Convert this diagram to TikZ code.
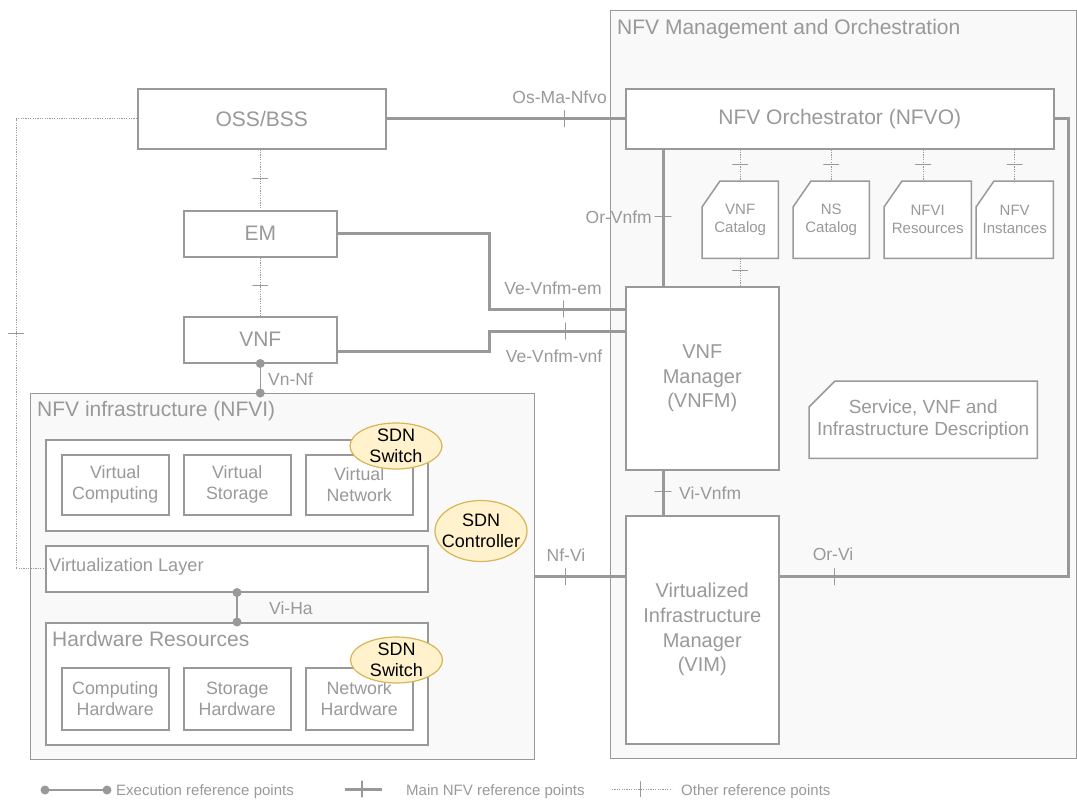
\documentclass[tikz,border=0pt]{standalone}
\usepackage{fontspec}
\setmainfont{Liberation Sans}
\usetikzlibrary{shapes.geometric,calc}
\definecolor{ln}{HTML}{999999}
\definecolor{tx}{HTML}{999999}
\definecolor{pane}{HTML}{F9F9F9}
\definecolor{sdnfill}{HTML}{FFF2CC}
\definecolor{sdnline}{HTML}{D6B656}
\newcommand{\fsz}[2]{\fontsize{#1}{#2}\selectfont}
\pgfdeclarelayer{panes}
\pgfdeclarelayer{cards}
\pgfsetlayers{panes,cards,main}
% outline of a card-shaped block: node name, chamfer width, chamfer height
\newcommand{\cardoutline}[3]{%
  \begin{pgfonlayer}{cards}
    \draw[draw=ln, line width=1.5pt, fill=white, line join=miter]
      ($(#1.north west)+(#2,0)$) -- (#1.north east) -- (#1.south east)
      -- (#1.south west) -- ($(#1.north west)+(0,#3)$) -- cycle;
  \end{pgfonlayer}}
\begin{document}
\begin{tikzpicture}[x=1pt, y=-1pt,
  pane/.style={draw=ln, line width=1.2pt, fill=pane, inner sep=0pt, anchor=north west},
  blk/.style={draw=ln, line width=1.5pt, fill=white, inner sep=0pt, anchor=north west,
              text=tx, align=center},
  big/.style={font=\fsz{21}{25}},
  sub/.style={blk, minimum width=107pt, font=\fsz{17.8}{21}},
  cardtxt/.style={inner sep=0pt, anchor=north west, text=tx, align=center,
                  minimum height=77pt, font=\fsz{15}{18}},
  ttl/.style={text=tx, anchor=west, inner sep=0pt, font=\fsz{21}{25}},
  lbl/.style={text=tx, inner sep=0pt, font=\fsz{17.5}{20}},
  leg/.style={text=tx, inner sep=0pt, anchor=west, font=\fsz{15}{18}},
  sdn/.style={ellipse, draw=sdnline, line width=1.2pt, fill=sdnfill, inner sep=0pt},
  sdntxt/.style={inner sep=0pt, align=center, text=black, font=\fsz{18}{21}},
  main/.style={draw=ln, line width=3pt},
  other/.style={draw=ln, line width=1pt, dash pattern=on 1.2pt off 1.2pt},
  exec/.style={draw=ln, line width=1.5pt},
  mt/.style={draw=ln, solid, line width=1.1pt, line join=round, rectangle, sloped,
             minimum width=0pt, minimum height=16pt, inner sep=0pt},
  ot/.style={draw=ln, solid, line width=1pt, line join=round, rectangle, sloped,
             minimum width=0pt, minimum height=15pt, inner sep=0pt},
  dot/.style={circle, fill=ln, inner sep=0pt, minimum size=9pt}]

\useasboundingbox (0,0) rectangle (1077,803);

% ---- containers ----
\begin{pgfonlayer}{panes}
  \node[pane, minimum width=466pt, minimum height=748pt] (mano) at (610,10) {};
  \node[pane, minimum width=504pt, minimum height=366pt] (nfvi) at (30,393) {};
\end{pgfonlayer}
\node[ttl] (manot) at (617,29) {NFV Management and Orchestration};
\node[ttl] (nfvit) at (37,411) {NFV infrastructure (NFVI)};

% ---- management blocks ----
\node[blk, big, minimum width=248pt, minimum height=60pt] (oss) at (137,88) {OSS/BSS};
\node[blk, big, minimum width=428pt, minimum height=60pt] (nfvo) at (625,88) {NFV Orchestrator (NFVO)};
\node[blk, big, minimum width=153pt, minimum height=46pt] (em) at (183,210) {EM};
\node[blk, big, minimum width=153pt, minimum height=46pt] (vnf) at (183,316) {VNF};
\node[blk, font=\fsz{20}{24.5}, minimum width=153pt, minimum height=183pt] (vnfm) at (625,286) {VNF\\Manager\\(VNFM)};
\node[blk, font=\fsz{20}{24.7}, minimum width=153pt, minimum height=228pt] (vim) at (625,515) {Virtualized\\Infrastructure\\Manager\\(VIM)};

% ---- repositories ----
\node[cardtxt, minimum width=76pt] (vnfcat) at (702,181) {VNF\\Catalog};
\node[cardtxt, minimum width=76pt] (nscat) at (793,181) {NS\\Catalog};
\node[cardtxt, minimum width=87pt] (nfvires) at (884,181) {NFVI\\Resources};
\node[cardtxt, minimum width=77pt] (nfvinst) at (976,181) {NFV\\Instances};
\node[cardtxt, minimum width=228pt, font=\fsz{19}{22}] (desc) at (809,381) {Service, VNF and\\Infrastructure Description};
\cardoutline{vnfcat}{18}{26}
\cardoutline{nscat}{18}{26}
\cardoutline{nfvires}{18}{26}
\cardoutline{nfvinst}{18}{26}
\cardoutline{desc}{26}{26}

% ---- infrastructure ----
\node[blk, minimum width=382pt, minimum height=91pt] (vres) at (45,439) {};
\node[sub, minimum height=60pt] (vcomp) at (61,454) {Virtual\\Computing};
\node[sub, minimum height=60pt] (vstor) at (183,454) {Virtual\\Storage};
\node[sub, minimum height=60pt] (vnet) at (305,454) {Virtual\\Network};
\node[blk, minimum width=382pt, minimum height=46pt] (virt) at (45,545) {};
\node[ttl, font=\fsz{18.2}{21}] (virtt) at (49,567) {Virtualization Layer};
\node[blk, minimum width=382pt, minimum height=122pt] (hw) at (45,622) {};
\node[ttl] (hwt) at (52,639) {Hardware Resources};
\node[sub, minimum height=62pt] (hcomp) at (61,667) {Computing\\Hardware};
\node[sub, minimum height=62pt] (hstor) at (183,667) {Storage\\Hardware};
\node[sub, minimum height=62pt] (hnet) at (305,667) {Network\\Hardware};

% ---- SDN elements ----
\node[sdn, minimum width=92pt, minimum height=46pt] (sw1) at (396,446) {};
\node[sdntxt] (sw1t) at (sw1) {SDN\\Switch};
\node[sdn, minimum width=92pt, minimum height=61pt] (ctl) at (481,531) {};
\node[sdntxt] (ctlt) at (ctl) {SDN\\Controller};
\node[sdn, minimum width=92pt, minimum height=46pt] (sw2) at (396.5,660) {};
\node[sdntxt] (sw2t) at (sw2) {SDN\\Switch};

% ---- main reference points ----
\coordinate (spine) at (663,0);
\coordinate (orvi) at (1068,0);
\coordinate (vejog) at (489,0);
\coordinate (emrow) at (0,309);
\coordinate (vnfrow) at (0,331);
\coordinate (vnfout) at (0,351);
\draw[main] (oss.east) -- node[mt, pos=0.746] (t1) {} (nfvo.west);
\draw[main] (nfvo.south -| spine) -- node[mt, pos=0.49] (t2) {} (vnfm.north -| spine);
\draw[main] (vnfm.south -| spine) -- node[mt, pos=0.48] (t3) {} (vim.north -| spine);
\draw[main] (nfvi.east) -- node[mt, pos=0.34] (t4) {} (vim.west |- nfvi.east);
\draw[main] (vim.east |- nfvi.east) -- node[mt, pos=0.19] (t5) {} (orvi |- nfvi.east)
  -- (orvi |- nfvo.east) -- (nfvo.east);
\draw[main] (em.east) -- (vejog |- em.east) -- (vejog |- emrow)
  -- node[mt, pos=0.55] (t6) {} (vnfm.west |- emrow);
\draw[main] (vnf.east |- vnfout) -- (vejog |- vnfout) -- (vejog |- vnfrow)
  -- node[mt, pos=0.56] (t7) {} (vnfm.west |- vnfrow);

% ---- other reference points ----
\coordinate (lrail) at (16,0);
\coordinate (nfvirx) at (923,0);
\draw[other] (oss.south -| em.north) -- node[ot, pos=0.48] (t8) {} (em.north);
\draw[other] (em.south) -- node[ot, pos=0.48] (t9) {} (vnf.north);
\draw[other] (oss.west) -- (oss.west -| lrail)
  -- node[ot, pos=0.478] (t10) {} (lrail |- virt.west) -- (virt.west);
\draw[other] (nfvo.south -| vnfcat.north) -- node[ot, pos=0.48] (t11) {} (vnfcat.north);
\draw[other] (nfvo.south -| nscat.north) -- node[ot, pos=0.48] (t12) {} (nscat.north);
\draw[other] (nfvo.south -| nfvirx) -- node[ot, pos=0.48] (t13) {} (nfvires.north -| nfvirx);
\draw[other] (nfvo.south -| nfvinst.north) -- node[ot, pos=0.48] (t14) {} (nfvinst.north);
\draw[other] (vnfcat.south) -- node[ot, pos=0.43] (t15) {} (vnfm.north -| vnfcat.south);

% ---- execution reference points ----
\coordinate (viha) at (237,0);
\draw[exec] (vnf.south) -- (nfvi.north -| vnf.south);
\node[dot] (d1) at (vnf.south) {};
\node[dot] (d2) at (nfvi.north -| vnf.south) {};
\draw[exec] (virt.south -| viha) -- (hw.north -| viha);
\node[dot] (d3) at (virt.south -| viha) {};
\node[dot] (d4) at (hw.north -| viha) {};

% ---- reference point labels ----
\node[lbl, anchor=east] (l1) at (607,97) {Os-Ma-Nfvo};
\node[lbl, anchor=east] (l2) at (652,217) {Or-Vnfm};
\node[lbl] (l3) at (553,288) {Ve-Vnfm-em};
\node[lbl] (l4) at (554,356) {Ve-Vnfm-vnf};
\node[lbl, anchor=west] (l5) at (268,379) {Vn-Nf};
\node[lbl, anchor=west] (l6) at (679,493) {Vi-Vnfm};
\node[lbl] (l7) at (566,555) {Nf-Vi};
\node[lbl] (l8) at (833,554) {Or-Vi};
\node[lbl, anchor=west] (l9) at (269,608) {Vi-Ha};

% ---- legend ----
\coordinate (e1) at (45,790);
\coordinate (e2) at (107,790);
\draw[exec] (e1) -- (e2);
\node[dot] (ed1) at (e1) {};
\node[dot] (ed2) at (e2) {};
\node[leg] (et) at (116,792) {Execution reference points};
\coordinate (m1) at (345,789);
\coordinate (m2) at (382,789);
\draw[main] (m1) -- node[mt, pos=0.46] (mtk) {} (m2);
\node[leg] (mtx) at (406,792) {Main NFV reference points};
\coordinate (o1) at (612,789);
\coordinate (o2) at (672,789);
\draw[other] (o1) -- node[ot, pos=0.47] (otk) {} (o2);
\node[leg] (otx) at (681,792) {Other reference points};
\end{tikzpicture}
\end{document}
